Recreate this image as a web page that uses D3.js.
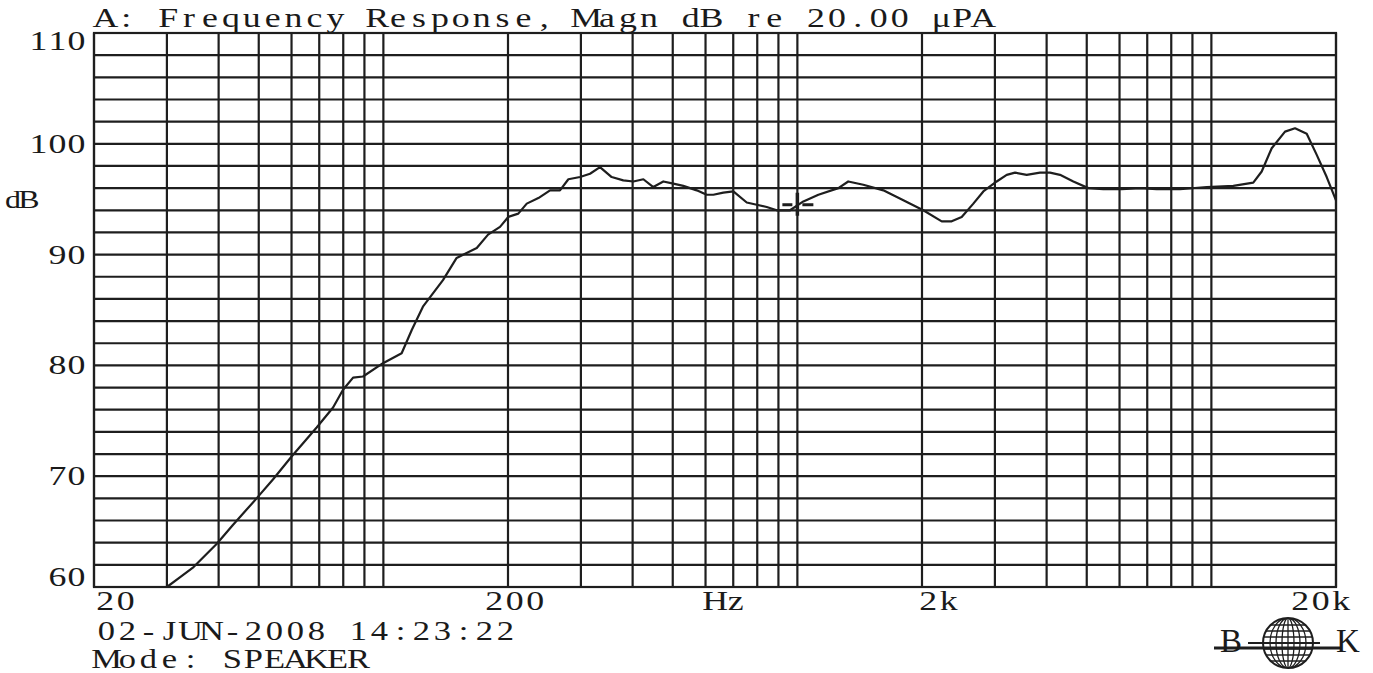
<html>
<head>
<meta charset="utf-8">
<script src="https://d3js.org/d3.v7.min.js"></script>
<style>
body { margin: 0; background: #fff; }
text { font-family: "Liberation Serif", "Times New Roman", serif; fill: #1a1a1a; }
</style>
</head>
<body>
<svg id="chart" width="1373" height="673"></svg>
<script>
var freqs = [30, 32.3, 34.8, 39.6, 43.3, 49.4, 54.1, 60.1, 69, 75.6, 79.9, 84.5, 89.3, 99.8,
  110.7, 117.1, 124.6, 139.3, 150.3, 168.1, 179, 191.3, 200.3, 211.8, 222, 236.8, 252.7, 267,
  279.8, 298.6, 315.6, 333.6, 356, 379.8, 401.6, 424.6, 448.8, 474.5, 501.6, 530.2, 571.4, 604,
  626.6, 662.5, 700.4, 754.6, 797.7, 843.4, 891.5, 959.8, 1034, 1124, 1256, 1327, 1443, 1613,
  1803, 2014, 2232, 2359, 2494, 2661, 2813, 3030, 3204, 3355, 3580, 3855, 4076, 4309, 4641,
  5044, 5483, 6075, 6726, 7377, 8401, 9745, 11298, 12625, 13230, 13987, 15062, 15924, 16994,
  17968, 18992, 20000];
var levels = [60.0, 60.9, 61.8, 63.9, 65.6, 68.0, 69.7, 71.8, 74.4, 76.2, 77.8, 78.9, 79.0, 80.2,
  81.1, 83.2, 85.3, 87.7, 89.7, 90.6, 91.8, 92.5, 93.4, 93.7, 94.6, 95.1, 95.8, 95.8,
  96.8, 97.0, 97.3, 97.9, 97.0, 96.7, 96.6, 96.8, 96.1, 96.6, 96.4, 96.2, 95.8, 95.4,
  95.4, 95.6, 95.7, 94.7, 94.5, 94.3, 94.0, 94.0, 94.8, 95.4, 96.0, 96.6, 96.3, 95.8,
  94.9, 94.0, 93.0, 93.0, 93.4, 94.6, 95.7, 96.6, 97.2, 97.4, 97.2, 97.4, 97.4, 97.2, 96.6,
  96.0, 95.9, 95.9, 96.0, 95.9, 95.9, 96.1, 96.2, 96.5, 97.5, 99.6, 101.1, 101.4, 100.9,
  99.0, 97.0, 94.9];

var yLabels = [110, 100, 90, 80, 70, 60];
var xLabels = ["20", "200", "Hz", "2k", "20k"];
var cursorFreq = 1000, cursorDb = 94.5;

var titleText = "A: Frequency Response, Magn dB re 20.00 \u03bcPA";
var dateText = "02-JUN-2008 14:23:22";
var modeText = "Mode: SPEAKER";

var svg = d3.select("#chart");
var plotL = 94, plotR = 1336, plotT = 33, plotB = 587;

var x = d3.scaleLog().domain([20, 20000]).range([plotL, plotR]);
var y = d3.scaleLinear().domain([60, 110]).range([plotB, plotT]);

var ink = "#1e1e1e";

// plotter style text: one stretched glyph per fixed-width cell
function mono(str, xLeft, base, pitch, size) {
  var sx = 1.28;
  var chars = str.split("");
  return svg.append("text")
    .attr("transform", "translate(" + xLeft + "," + base + ") scale(" + sx + ",1)")
    .attr("x", chars.map(function(c, i) { return pitch * (i + 0.5) / sx; }).join(" "))
    .attr("y", 0)
    .attr("text-anchor", "middle")
    .style("font-size", size + "px")
    .text(str);
}

// grid
var grid = svg.append("g").attr("stroke", ink).attr("stroke-width", 2.2);
grid.selectAll("line.v")
  .data(x.ticks())
  .enter().append("line")
  .attr("x1", function(d) { return x(d); })
  .attr("x2", function(d) { return x(d); })
  .attr("y1", plotT).attr("y2", plotB);
grid.selectAll("line.h")
  .data(d3.range(60, 111, 2))
  .enter().append("line")
  .attr("x1", plotL).attr("x2", plotR)
  .attr("y1", function(d) { return y(d); })
  .attr("y2", function(d) { return y(d); });
svg.append("rect")
  .attr("x", plotL).attr("y", plotT)
  .attr("width", plotR - plotL).attr("height", plotB - plotT)
  .attr("fill", "none").attr("stroke", ink).attr("stroke-width", 2.2);

// curve
var line = d3.line()
  .x(function(d, i) { return x(freqs[i]); })
  .y(function(d) { return y(d); });
svg.append("path")
  .attr("d", line(levels))
  .attr("fill", "none")
  .attr("stroke", ink)
  .attr("stroke-width", 2.2)
  .attr("stroke-linejoin", "round");

// cursor
var cx = x(cursorFreq), cy = y(cursorDb);
var cur = svg.append("g").attr("stroke", ink);
cur.append("line").attr("x1", cx - 15).attr("x2", cx - 5).attr("y1", cy).attr("y2", cy).attr("stroke-width", 3);
cur.append("line").attr("x1", cx + 5).attr("x2", cx + 16).attr("y1", cy).attr("y2", cy).attr("stroke-width", 3);
cur.append("line").attr("x1", cx).attr("x2", cx).attr("y1", cy - 12).attr("y2", cy + 11).attr("stroke-width", 3.5);

// y labels
yLabels.forEach(function(v) {
  var s = String(v);
  var base = y(v) + 9;
  if (v === 110) base = y(v) + 17;
  if (v === 60) base = y(v) - 1;
  mono(s, 86 - s.length * 19, base, 19, 28);
});
mono("dB", 5, 208, 16, 25);

// x labels
var xLabelLeft = [95, 484, 705, 918, 1290];
xLabels.forEach(function(s, i) {
  mono(s, xLabelLeft[i], 610, 20.5, 28);
});

// header / footer
mono(titleText, 95, 27, 20.9, 28);
mono(dateText, 96, 640, 21, 27);
mono(modeText, 96, 668, 21, 27);

// B&K logo
var gx = 1288, gy = 643, gr = 25;
svg.append("clipPath").attr("id", "globe")
  .append("circle").attr("cx", gx).attr("cy", gy).attr("r", gr);
var logo = svg.append("g").attr("stroke", ink).attr("fill", "none");
var inner = logo.append("g").attr("clip-path", "url(#globe)").attr("stroke-width", 1.3);
[-18, -12, -6, 0, 6, 12, 18].forEach(function(o) {
  inner.append("line").attr("x1", gx - gr).attr("x2", gx + gr).attr("y1", gy + o).attr("y2", gy + o);
});
[6, 12, 18].forEach(function(r) {
  inner.append("ellipse").attr("cx", gx).attr("cy", gy).attr("rx", r).attr("ry", gr);
});
inner.append("line").attr("x1", gx).attr("x2", gx).attr("y1", gy - gr).attr("y2", gy + gr);
logo.append("circle").attr("cx", gx).attr("cy", gy).attr("r", gr).attr("stroke-width", 2);
svg.append("text").attr("x", 1220).attr("y", 652).style("font-size", "33px").text("B");
svg.append("text").attr("x", 1336).attr("y", 652).style("font-size", "33px").text("K");
logo.append("line").attr("x1", 1214).attr("x2", 1342).attr("y1", 648).attr("y2", 648).attr("stroke-width", 3);
logo.append("line").attr("x1", 1248).attr("x2", 1320).attr("y1", 643).attr("y2", 643).attr("stroke-width", 2);
</script>
</body>
</html>
